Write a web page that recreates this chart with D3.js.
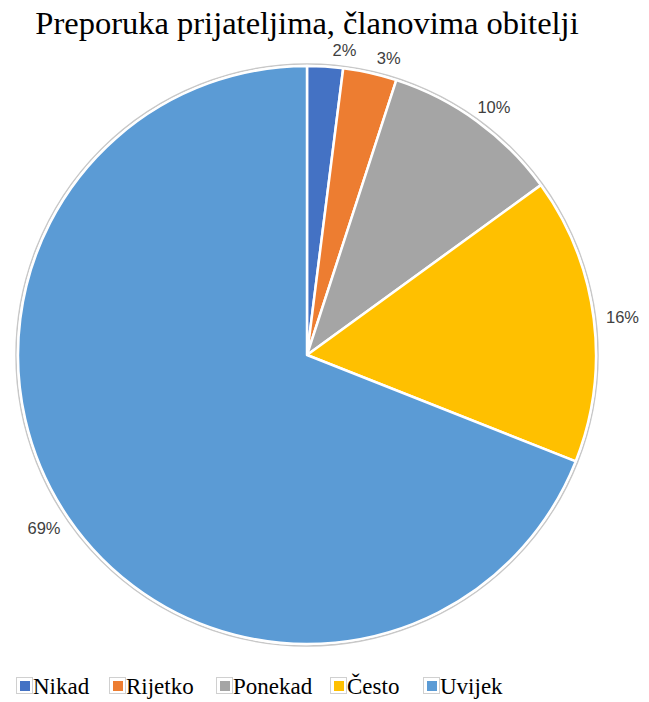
<!DOCTYPE html>
<html>
<head>
<meta charset="utf-8">
<script src="https://cdn.jsdelivr.net/npm/d3@7"></script>
<style>
  body { margin: 0; background: #fff; }
</style>
</head>
<body>
<div id="chart"></div>
<script>
const categories = ['Nikad', 'Rijetko', 'Ponekad', 'Često', 'Uvijek'];
const values = [2, 3, 10, 16, 69];
const colors = ['#4472C4', '#ED7D31', '#A5A5A5', '#FFC000', '#5B9BD5'];
const titleText = 'Preporuka prijateljima, članovima obitelji';

const width = 649;
const height = 702;
const cx = 307;
const cy = 355;
const radius = 289;
const serif = "'Liberation Serif', 'Times New Roman', serif";
const sans = "'Liberation Sans', Arial, sans-serif";

const data = categories.map((c, i) => ({ key: c, value: values[i], color: colors[i] }));

const svg = d3.select('#chart').append('svg')
  .attr('width', width)
  .attr('height', height);

const title = svg.append('text')
  .attr('x', cx)
  .attr('y', 34)
  .attr('text-anchor', 'middle')
  .attr('font-family', serif)
  .attr('font-size', 32.5)
  .attr('fill', '#000')
  .text(titleText);

const tb = title.node().getBBox();
const titleBottom = tb.y + tb.height + 1;

const g = svg.append('g')
  .attr('transform', `translate(${cx},${cy})`);

const pie = d3.pie().sort(null).value((d) => d.value);
const arc = d3.arc().innerRadius(0).outerRadius(radius);
const arcs = pie(data);

// faint outer ring
g.append('circle')
  .attr('r', radius + 2)
  .attr('fill', 'none')
  .attr('stroke', '#c8c8c8')
  .attr('stroke-width', 1.5);

g.selectAll('.slice')
  .data(arcs)
  .enter().append('path')
  .attr('class', 'slice')
  .attr('d', arc)
  .attr('fill', (d) => d.data.color)
  .attr('stroke', '#fff')
  .attr('stroke-width', 2.5)
  .attr('stroke-linejoin', 'round');

// labels outside end, nudged clockwise when they hit the title or each other
const labelR = 299;
const halfW = 19;
const halfH = 8;
const place = (a) => {
  const s = Math.sin(a);
  const c = -Math.cos(a);
  return [labelR * s + s * halfW, labelR * c + c * halfH];
};
let prev = null;
const labelPos = arcs.map((d) => {
  let a = (d.startAngle + d.endAngle) / 2;
  let p = place(a);
  const hitsTitle = (q) => cy + q[1] - halfH < titleBottom;
  const hitsPrev = (q) => prev !== null &&
    Math.abs(q[0] - prev[0]) < 2 * halfW + 6 &&
    Math.abs(q[1] - prev[1]) < 2 * halfH;
  let n = 0;
  while ((hitsTitle(p) || hitsPrev(p)) && n < 200) {
    a += 0.005;
    p = place(a);
    n++;
  }
  prev = p;
  return p;
});

g.selectAll('.lbl')
  .data(arcs)
  .enter().append('text')
  .attr('class', 'lbl')
  .attr('text-anchor', 'middle')
  .attr('dominant-baseline', 'central')
  .attr('font-family', sans)
  .attr('font-size', 16.5)
  .attr('fill', '#404040')
  .attr('transform', (d, i) => `translate(${labelPos[i][0]},${labelPos[i][1]})`)
  .text((d) => `${d.data.value}%`);

// legend
const legendX = [16, 109, 216, 330, 423];
const legY = 686;
const leg = svg.selectAll('.legitem')
  .data(data)
  .enter().append('g')
  .attr('class', 'legitem')
  .attr('transform', (d, i) => `translate(${legendX[i]},${legY})`);

leg.append('rect')
  .attr('x', 0.5)
  .attr('y', -8.5)
  .attr('width', 16)
  .attr('height', 16)
  .attr('fill', '#fff')
  .attr('stroke', '#d0d0d0');

leg.append('rect')
  .attr('x', 4)
  .attr('y', -5)
  .attr('width', 10)
  .attr('height', 10)
  .attr('fill', (d) => d.color);

leg.append('text')
  .attr('x', 17)
  .attr('y', 8)
  .attr('font-family', serif)
  .attr('font-size', 23)
  .attr('fill', '#000')
  .text((d) => d.key);
</script>
</body>
</html>
